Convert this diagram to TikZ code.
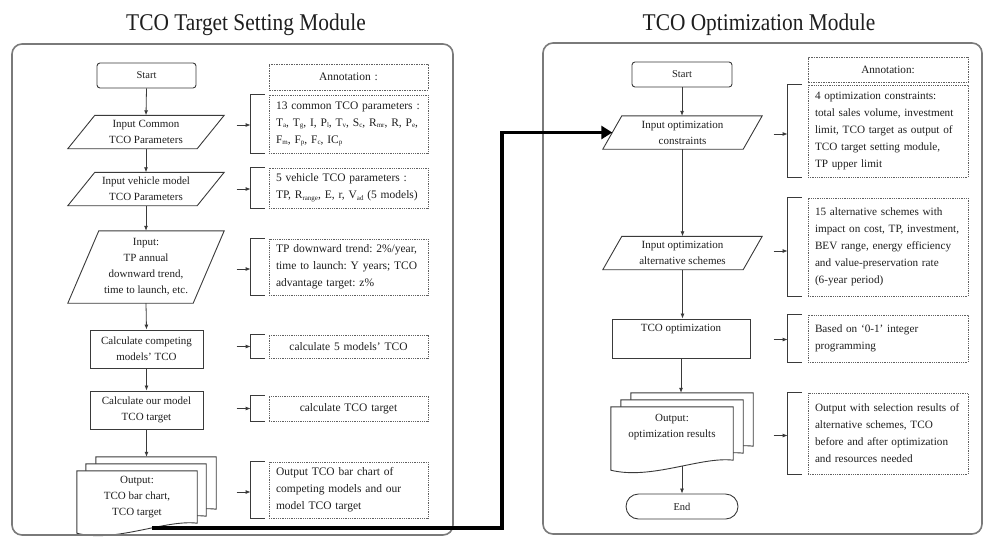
\documentclass[tikz,border=0pt]{standalone}
\usepackage{fontspec}
\setmainfont{Liberation Serif}
\newfontfamily\titlefont[FakeStretch=0.89]{Liberation Serif}
\usetikzlibrary{arrows.meta,calc}
\definecolor{ln}{HTML}{3A3A3A}
\definecolor{frm}{HTML}{7A7A7A}
\definecolor{tx}{HTML}{1E1E1E}
\pgfdeclarelayer{bg}
\pgfsetlayers{bg,main}
\frenchspacing
\newcommand\sbs[1]{\raisebox{-0.3ex}{\fontsize{7}{7}\selectfont #1}}
\newcommand\parashape[2]{%
  \draw[shp] ($(#1.north west)+(#2/2,0)$) -- ($(#1.north east)+(#2/2,0)$) --
    ($(#1.south east)-(#2/2,0)$) -- ($(#1.south west)-(#2/2,0)$) -- cycle;}
\newcommand\docsheet[1]{%
  \filldraw[shp,fill=white] (#1.north west) -- (#1.north east) -- (#1.south east)
    .. controls ($(#1.south east)+(-32,-4)$) and ($(#1.south east)+(-82,20)$) ..
    ($(#1.south west)+(0,10)$) -- cycle;}
\newcommand\annlink[5]{%
  \draw[brk] ([xshift=-#2pt]#1.north west) -- ([xshift=-#3pt]#1.north west) --
    ([xshift=-#3pt]#1.south west) -- ([xshift=-#2pt]#1.south west);
  \draw[arr] ([xshift=-#4pt,yshift=#5pt]#1.west) -- ([xshift=-#3pt,yshift=#5pt]#1.west);}
\begin{document}
\begin{tikzpicture}[x=1pt,y=-1pt,
  base/.style={text=tx, font=\fontsize{11}{16}\selectfont, align=center, inner sep=0pt},
  proc/.style={base, draw=ln, line width=0.9pt, rectangle},
  startbox/.style={proc, rounded corners=3pt, font=\fontsize{10.5}{13}\selectfont, minimum width=99pt, minimum height=25pt},
  pbody/.style={base, rectangle, minimum height=33pt},
  shp/.style={draw=ln, line width=0.9pt},
  sheet/.style={rectangle, minimum width=120pt, minimum height=52pt, inner sep=0pt},
  ann/.style={draw=ln!80, densely dotted, line width=0.8pt, text=tx, font=\fontsize{11.5}{17}\selectfont, align=left, inner xsep=7pt, inner ysep=0pt, text width=145pt},
  annr/.style={ann, font=\fontsize{11.2}{17}\selectfont, text width=146pt},
  anntitle/.style={dash pattern=on 2pt off 1.2pt on 0.6pt off 1.2pt, align=center},
  brk/.style={draw=ln, line width=0.9pt},
  arr/.style={draw=ln, line width=0.8pt, -{Latex[length=5pt,width=4pt]}},
  bigarr/.style={draw=black, line width=3.5pt, -{Triangle[length=11pt,width=13pt]}},
  modframe/.style={draw=frm, line width=1.6pt, rounded corners=10pt},
  ttl/.style={text=tx, font=\titlefont\fontsize{24}{28}\selectfont, inner sep=0pt}]
\useasboundingbox (0,0) rectangle (984,539);

% titles and module frames
\node[ttl] (lt) at (246,24.5) {TCO Target Setting Module};
\node[ttl] (rt) at (759,24.5) {TCO Optimization Module};
\draw[modframe] (12,44) rectangle (453,535);
\draw[modframe] (543,43) rectangle (982,534);

% ---------------- left flow ----------------
\node[startbox] (ls) at (146.5,75.5) {Start};
\node[pbody, minimum width=129pt] (lp1) at (146,132) {Input Common\\TCO Parameters};
\parashape{lp1}{27}
\node[pbody, minimum width=129pt] (lp2) at (146,189) {Input vehicle model\\TCO Parameters};
\parashape{lp2}{27}
\node[pbody, minimum width=125pt, minimum height=72pt] (lp3) at (146,267) {Input:\\TP annual\\downward trend,\\time to launch, etc.};
\parashape{lp3}{31}
\node[proc, minimum width=113pt, minimum height=38pt] (lc1) at (146.5,349) {Calculate competing\\models' TCO};
\node[proc, minimum width=113pt, minimum height=38pt] (lc2) at (146.5,410) {Calculate our model\\TCO target};
\node[sheet] (lob) at (156,483) {};
\node[sheet] (lom) at (146,490) {};
\node[sheet] (lof) at (137,497) {};
\begin{pgfonlayer}{bg}
  \docsheet{lob}\docsheet{lom}\docsheet{lof}
\end{pgfonlayer}
\node[base] (ltx) at (137,497.5) {Output:\\TCO bar chart,\\TCO target};

\draw[arr] (ls.south) -- (lp1.north);
\draw[arr] (lp1.south) -- (lp2.north);
\draw[arr] (lp2.south) -- (lp3.north);
\draw[arr] (lp3.south) -- (lc1.north);
\draw[arr] (lc1.south) -- (lc2.north);
\draw[arr] (lc2.south) -- (lc2.south |- lob.north);

% left annotations
\node[ann, anntitle, minimum height=26pt] (la0) at (348.5,77) {Annotation :};
\node[ann, minimum height=58pt] (la1) at (348.5,124) {\mbox{13 common TCO parameters :}\\\mbox{T\sbs{a}, T\sbs{g}, I, P\sbs{l}, T\sbs{v}, S\sbs{c}, R\sbs{mr}, R, P\sbs{e},}\\\mbox{F\sbs{m}, F\sbs{p}, F\sbs{c}, IC\sbs{p}}};
\node[ann, minimum height=40pt] (la2) at (348.5,188) {\mbox{5 vehicle TCO parameters :}\\\mbox{TP, R\sbs{range}, E, r, V\sbs{ad} (5 models)}};
\node[ann, minimum height=56pt] (la3) at (348.5,267) {\mbox{TP downward trend: 2\%/year,}\\\mbox{time to launch: Y years; TCO}\\advantage target: z\%};
\node[ann, align=center, minimum height=23pt] (la4) at (348.5,346.5) {calculate 5 models' TCO};
\node[ann, align=center, minimum height=25pt] (la5) at (348.5,408.5) {calculate TCO target};
\node[ann, minimum height=56pt] (la6) at (348.5,490) {Output TCO bar chart of\\competing models and our\\model TCO target};
\annlink{la1}{4}{18}{32}{-1}
\annlink{la2}{4}{18}{32}{-1}
\annlink{la3}{4}{18}{32}{-2}
\annlink{la4}{4}{18}{32}{0}
\annlink{la5}{4}{18}{32}{0}
\annlink{la6}{4}{18}{32}{-2}

% ---------------- right flow ----------------
\node[startbox, minimum width=100pt] (rs) at (682,74.5) {Start};
\node[pbody, minimum width=140pt] (rp1) at (682.5,132.5) {Input optimization\\constraints};
\parashape{rp1}{19}
\node[pbody, minimum width=140pt] (rp2) at (682.5,253) {Input optimization\\alternative schemes};
\parashape{rp2}{19}
\node[proc, minimum width=138pt, minimum height=39pt] (rc) at (681,338.5) {TCO optimization\\\strut};
\node[sheet, minimum width=122pt, minimum height=53pt] (rob) at (692,419.5) {};
\node[sheet, minimum width=122pt, minimum height=53pt] (rom) at (682,426.5) {};
\node[sheet, minimum width=122pt, minimum height=53pt] (rof) at (672,433.5) {};
\begin{pgfonlayer}{bg}
  \docsheet{rob}\docsheet{rom}\docsheet{rof}
\end{pgfonlayer}
\node[base] (rtx) at (672,427) {Output:\\optimization results};
\node[proc, rounded corners=12.5pt, minimum width=112pt, minimum height=25pt, font=\fontsize{10.5}{13}\selectfont] (re) at (682,506.5) {End};
\coordinate (rofb) at (682,466);

\draw[arr] (rs.south) -- (rs.south |- rp1.north);
\draw[arr] (rp1.south) -- (rp1.south |- rp2.north);
\draw[arr] (rp2.south) -- (rp2.south |- rc.north);
\draw[arr] (rc.south) -- (rc.south |- rob.north);
\draw[arr] (rofb) -- (rofb |- re.north);

% right annotations
\node[annr, anntitle, minimum height=25pt] (ra0) at (888,70) {Annotation:};
\node[annr, minimum height=92pt] (ra1) at (888,131) {4 optimization constraints:\\total sales volume, investment\\limit, TCO target as output of\\TCO target setting module,\\TP upper limit};
\node[annr, minimum height=98pt] (ra2) at (888,247) {15 alternative schemes with\\\mbox{impact on cost, TP, investment,}\\BEV range, energy efficiency\\and value-preservation rate\\(6-year period)};
\node[annr, minimum height=47pt] (ra3) at (888,338.5) {Based on `0-1' integer\\programming};
\node[annr, minimum height=81pt] (ra4) at (888,433.5) {\mbox{Output with selection results of}\\alternative schemes, TCO\\before and after optimization\\and resources needed};
\annlink{ra1}{6}{20}{34}{-3}
\annlink{ra2}{6}{20}{34}{-4}
\annlink{ra3}{6}{20}{34}{-1}
\annlink{ra4}{6}{20}{34}{-2}

% thick link between modules
\coordinate (tstart) at (152,528);
\coordinate (tbend) at (502,528);
\draw[bigarr] (tstart) -- (tbend) |- (rp1.west);
\end{tikzpicture}
\end{document}
